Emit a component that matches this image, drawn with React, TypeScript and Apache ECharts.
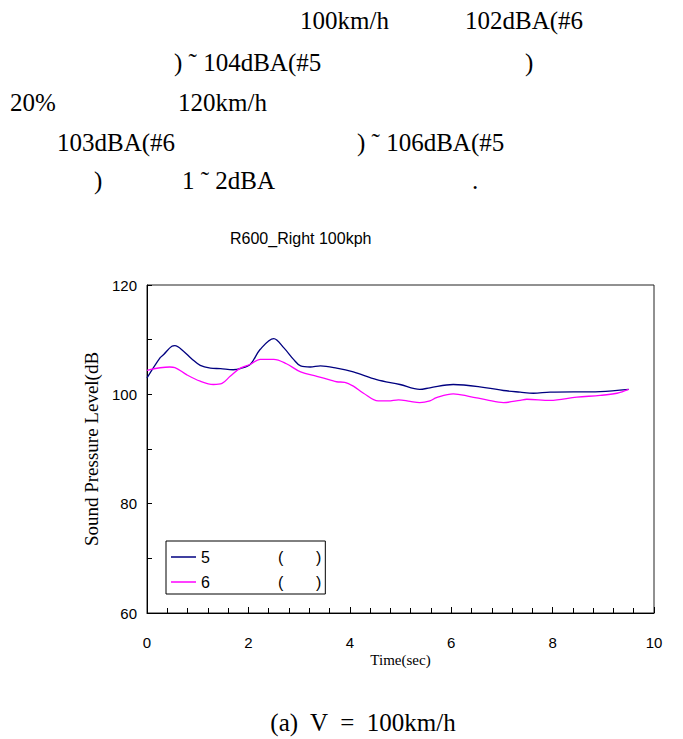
import React, { useEffect, useRef } from "react";
import * as echarts from "echarts";

// Series "5" (navy)
const time5 = [0, 0.26, 0.33, 0.49, 0.55, 0.72, 0.88, 1.05, 1.25, 1.45, 1.7, 1.84, 2.04, 2.23, 2.5, 2.7, 2.89, 3.03, 3.22, 3.42, 3.74, 4.07, 4.53, 4.99, 5.38, 5.58, 6.04, 6.7, 7.03, 7.36, 7.62, 7.95, 8.94, 9.5];
const level5 = [103.0, 106.7, 107.3, 108.8, 108.9, 107.9, 106.5, 105.3, 104.8, 104.7, 104.5, 104.7, 105.5, 108.2, 110.2, 108.5, 106.4, 105.2, 105.0, 105.2, 104.8, 104.1, 102.7, 101.8, 100.9, 101.2, 101.8, 101.2, 100.7, 100.4, 100.2, 100.4, 100.5, 100.9];

// Series "6" (magenta)
const time6 = [0, 0.45, 0.55, 0.78, 1.05, 1.31, 1.48, 1.64, 1.84, 2.04, 2.23, 2.5, 2.75, 3.03, 3.35, 3.62, 3.74, 3.9, 4.07, 4.27, 4.56, 4.76, 4.96, 5.19, 5.38, 5.58, 5.71, 6.04, 6.37, 6.7, 7.03, 7.36, 7.49, 7.95, 8.48, 8.94, 9.27, 9.5];
const level6 = [104.4, 105.0, 104.9, 103.6, 102.4, 101.8, 102.0, 103.3, 104.8, 105.5, 106.4, 106.4, 105.6, 104.1, 103.3, 102.6, 102.3, 102.2, 101.5, 100.2, 98.8, 98.8, 99.0, 98.7, 98.5, 98.8, 99.4, 100.1, 99.6, 99.0, 98.5, 98.9, 99.1, 98.9, 99.5, 99.8, 100.2, 100.9];

const seriesNames = ["5", "6"];
const chartTitle = "R600_Right 100kph";
const xAxisName = "Time(sec)";
const yAxisName = "Sound Pressure Level(dB";
const xRange = [0, 10];
const yRange = [60, 120];
const caption = "(a)  V  =  100km/h";

// visible fragments of the paragraph above the chart, per line
const line1 = ["100km/h", "102dBA(#6"];
const line2 = [") \u02DC 104dBA(#5", ")"];
const line3 = ["20%", "120km/h"];
const line4 = ["103dBA(#6", ") \u02DC 106dBA(#5"];
const line5 = [")", "1 \u02DC 2dBA", "."];

const SERIF = "'Liberation Serif', 'Times New Roman', serif";
const SANS = "'Liberation Sans', Arial, sans-serif";

function txt(text: string, x: number, y: number, size = 25, align = "left") {
  return {
    type: "text",
    x,
    y,
    style: {
      text,
      fontSize: size,
      fontFamily: SERIF,
      fill: "#000",
      align,
      verticalAlign: "middle",
    },
  };
}

export default function App() {
  const ref = useRef<HTMLDivElement>(null);
  useEffect(() => {
    const chart = echarts.init(ref.current!, null, { renderer: "svg" });
    const pairs = (t: number[], v: number[]) => t.map((x, i) => [x, v[i]]);
    chart.setOption({
      animation: false,
      backgroundColor: "#fff",
      title: {
        text: chartTitle,
        left: 230,
        top: 230,
        padding: 0,
        textStyle: { fontFamily: SANS, fontSize: 16, fontWeight: "normal", color: "#000" },
      },
      graphic: [
        txt(line1[0], 300, 20),
        txt(line1[1], 465, 20),
        txt(line2[0], 174, 62),
        txt(line2[1], 525, 62),
        txt(line3[0], 10, 102),
        txt(line3[1], 178, 102),
        txt(line4[0], 57, 142),
        txt(line4[1], 357, 142),
        txt(line5[0], 94, 180),
        txt(line5[1], 182, 180),
        txt(line5[2], 472, 180),
        txt(caption, 363, 722, 25, "center"),
      ],
      grid: {
        left: 147,
        top: 285,
        width: 507,
        height: 328,
        show: true,
        borderColor: "#222",
        borderWidth: 1,
        backgroundColor: "transparent",
      },
      legend: {
        orient: "vertical",
        left: 166,
        top: 541,
        padding: [8, 4, 4, 5],
        itemGap: 9,
        itemWidth: 25,
        itemHeight: 1.5,
        icon: "rect",
        borderColor: "#000",
        borderWidth: 1,
        data: seriesNames,
        formatter: (name: string) => `{a|${name}}{b|(}{c|)}`,
        textStyle: {
          fontFamily: SANS,
          fontSize: 16,
          color: "#000",
          lineHeight: 16,
          rich: {
            a: { width: 77, fontFamily: SANS, fontSize: 16 },
            b: { width: 38, fontFamily: SANS, fontSize: 16 },
            c: { fontFamily: SANS, fontSize: 16 },
          },
        },
      },
      xAxis: {
        type: "value",
        min: xRange[0],
        max: xRange[1],
        interval: 2,
        axisLine: { show: true, lineStyle: { color: "#000", width: 1 } },
        axisTick: { show: true, inside: true, length: 6, lineStyle: { color: "#000" } },
        minorTick: { show: true, splitNumber: 5, length: 5, lineStyle: { color: "#000" } },
        splitLine: { show: false },
        axisLabel: { margin: 22, fontSize: 15, fontFamily: SANS, color: "#000" },
        name: xAxisName,
        nameLocation: "middle",
        nameGap: 39,
        nameTextStyle: { fontFamily: SERIF, fontSize: 15, color: "#000" },
      },
      yAxis: {
        type: "value",
        min: yRange[0],
        max: yRange[1],
        interval: 20,
        axisLine: { show: true, lineStyle: { color: "#000", width: 1 } },
        axisTick: { show: true, inside: true, length: 5, lineStyle: { color: "#000" } },
        minorTick: { show: true, splitNumber: 2, length: 5, lineStyle: { color: "#000" } },
        splitLine: { show: false },
        axisLabel: { margin: 10, fontSize: 15, fontFamily: SANS, color: "#000" },
        name: yAxisName,
        nameLocation: "middle",
        nameGap: 46,
        nameRotate: 90,
        nameTextStyle: { fontFamily: SERIF, fontSize: 19, color: "#000" },
      },
      series: [
        {
          name: seriesNames[0],
          type: "line",
          data: pairs(time5, level5),
          showSymbol: false,
          smooth: 0.35,
          color: "#000080",
          lineStyle: { color: "#000080", width: 1.3 },
        },
        {
          name: seriesNames[1],
          type: "line",
          data: pairs(time6, level6),
          showSymbol: false,
          smooth: 0.35,
          color: "#FF00FF",
          lineStyle: { color: "#FF00FF", width: 1.3 },
        },
      ],
    });
    return () => chart.dispose();
  }, []);
  return <div ref={ref} style={{ position: "absolute", left: 0, top: 0, width: 683, height: 739 }} />;
}
